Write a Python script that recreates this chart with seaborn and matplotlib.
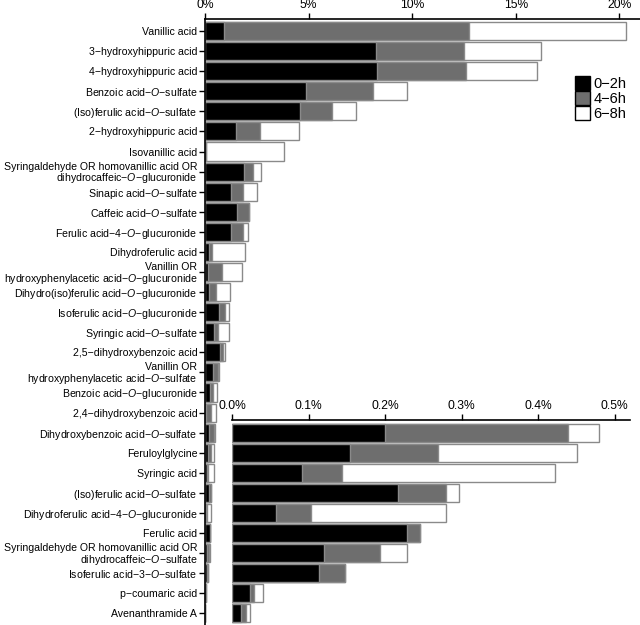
import matplotlib
matplotlib.use('Agg')
import pandas as pd
import matplotlib.pyplot as plt
from matplotlib.patches import Patch
import seaborn as sns

M = '\u2212'
O = '$\\mathit{O}$'

# compounds, top to bottom
compounds = [
    'Vanillic acid',
    f'3{M}hydroxyhippuric acid',
    f'4{M}hydroxyhippuric acid',
    f'Benzoic acid{M}{O}{M}sulfate',
    f'(Iso)ferulic acid{M}{O}{M}sulfate',
    f'2{M}hydroxyhippuric acid',
    'Isovanillic acid',
    f'Syringaldehyde OR homovanillic acid OR\ndihydrocaffeic{M}{O}{M}glucuronide',
    f'Sinapic acid{M}{O}{M}sulfate',
    f'Caffeic acid{M}{O}{M}sulfate',
    f'Ferulic acid{M}4{M}{O}{M}glucuronide',
    'Dihydroferulic acid',
    f'Vanillin OR\nhydroxyphenylacetic acid{M}{O}{M}glucuronide',
    f'Dihydro(iso)ferulic acid{M}{O}{M}glucuronide ',
    f'Isoferulic acid{M}{O}{M}glucuronide',
    f'Syringic acid{M}{O}{M}sulfate',
    f'2,5{M}dihydroxybenzoic acid',
    f'Vanillin OR\nhydroxyphenylacetic acid{M}{O}{M}sulfate',
    f'Benzoic acid{M}{O}{M}glucuronide',
    f'2,4{M}dihydroxybenzoic acid',
    f'Dihydroxybenzoic acid{M}{O}{M}sulfate',
    'Feruloylglycine',
    'Syringic acid',
    f'(Iso)ferulic acid{M}{O}{M}sulfate',
    f'Dihydroferulic acid{M}4{M}{O}{M}glucuronide',
    'Ferulic acid',
    f'Syringaldehyde OR homovanillic acid OR\ndihydrocaffeic{M}{O}{M}sulfate',
    f'Isoferulic acid{M}3{M}{O}{M}sulfate',
    f'p{M}coumaric acid',
    'Avenanthramide A',
]

# % of dose per collection window
h0_2 = [0.93, 8.27, 8.28, 4.88, 4.59, 1.48, 0.05, 1.88, 1.26, 1.55,
        1.27, 0.19, 0.13, 0.19, 0.69, 0.43, 0.72, 0.40, 0.24, 0.05,
        0.200, 0.154, 0.0915, 0.217, 0.0575, 0.228, 0.120, 0.114, 0.023, 0.0118]
h4_6 = [11.80, 4.21, 4.33, 3.22, 1.53, 1.19, 0.0, 0.45, 0.56, 0.56,
        0.55, 0.16, 0.69, 0.33, 0.28, 0.18, 0.17, 0.21, 0.13, 0.24,
        0.239, 0.1145, 0.0515, 0.062, 0.045, 0.017, 0.0735, 0.034, 0.006, 0.0057]
h6_8 = [7.57, 3.75, 3.44, 1.67, 1.17, 1.87, 3.77, 0.37, 0.69, 0.0,
        0.27, 1.60, 0.98, 0.70, 0.20, 0.56, 0.08, 0.08, 0.21, 0.26,
        0.040, 0.182, 0.279, 0.018, 0.1775, 0.0, 0.0345, 0.0, 0.0107, 0.0052]

series_labels = [f'0{M}2h', f'4{M}6h', f'6{M}8h']
colours = ['black', '#6e6e6e', 'white']
main_ticks = [0, 5, 10, 15, 20]
inset_ticks = [0.0, 0.1, 0.2, 0.3, 0.4, 0.5]
n_inset = 10  # last rows repeated in the zoomed panel

sns.set_style('ticks')
plt.rcParams['font.family'] = ['Liberation Sans', 'DejaVu Sans']
plt.rcParams['mathtext.fontset'] = 'custom'
plt.rcParams['mathtext.rm'] = 'Liberation Sans'
plt.rcParams['mathtext.it'] = 'Liberation Sans:italic'
plt.rcParams['axes.linewidth'] = 1.2
for k in ['text.color', 'axes.edgecolor', 'xtick.color', 'ytick.color',
          'xtick.labelcolor', 'ytick.labelcolor', 'axes.labelcolor']:
    plt.rcParams[k] = 'black'

df = pd.DataFrame({'row': range(len(compounds)), 'name': compounds,
                   'a': h0_2, 'b': h4_6, 'c': h6_8})
df['ab'] = df['a'] + df['b']
df['abc'] = df['ab'] + df['c']


def stacked(data, ax):
    for col, colour in [('abc', colours[2]), ('ab', colours[1]), ('a', colours[0])]:
        sns.barplot(data=data, x=col, y='row', orient='h', color=colour,
                    saturation=1, edgecolor='#8a8a8a', linewidth=1,
                    width=0.9, errorbar=None, ax=ax)
    ax.set_xlabel('')
    ax.set_ylabel('')
    for s in ['bottom', 'right']:
        ax.spines[s].set_visible(False)
    ax.xaxis.set_ticks_position('top')
    ax.tick_params(axis='x', top=True, bottom=False, labeltop=True,
                   labelbottom=False, length=4, width=1, labelsize=8.7, pad=2)


fig = plt.figure(figsize=(6.4, 6.25), dpi=100)

# main panel
ax = fig.add_axes([205 / 640, 0, 435 / 640, 606 / 625])
stacked(df, ax)
ax.set_xlim(0, 21.0)
ax.set_ylim(29.58, -0.6)
ax.set_xticks(main_ticks)
ax.set_xticklabels([f'{v}%' for v in main_ticks])
ax.set_yticks(range(len(compounds)))
ax.set_yticklabels(compounds)
ax.tick_params(axis='y', length=4, width=1, labelsize=7.55, pad=1.5)
for lbl in ax.get_yticklabels():
    lbl.set_linespacing(0.95)

# zoomed panel for the small ones
axi = fig.add_axes([232.3 / 640, 0, 397.7 / 640, 205 / 625])
axi.set_facecolor('none')
sub = df.iloc[-n_inset:].copy()
stacked(sub, axi)
axi.spines['left'].set_visible(False)
axi.set_xlim(0, 0.52)
axi.set_ylim(9.58, -0.63)
axi.set_xticks(inset_ticks)
axi.set_xticklabels([f'{v:.1f}%' for v in inset_ticks])
axi.set_yticks([])

handles = [Patch(facecolor=c, edgecolor='black', linewidth=1, label=l)
           for c, l in zip(colours, series_labels)]
fig.legend(handles=handles, loc='upper left', bbox_to_anchor=(575 / 640, 1 - 76 / 625),
           frameon=False, fontsize=10.5, handlelength=1.0, handleheight=1.1,
           labelspacing=0, handletextpad=0.25, borderpad=0, borderaxespad=0)

fig.savefig('out.png', dpi=100)
